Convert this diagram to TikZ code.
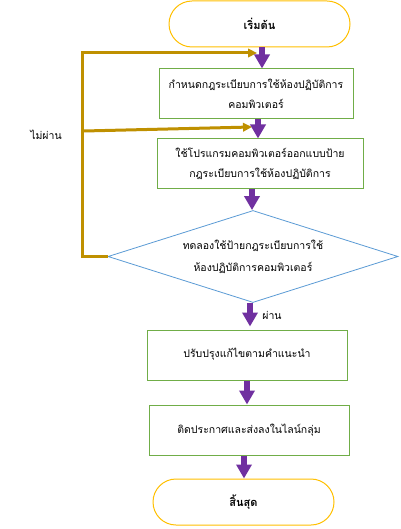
\documentclass[tikz,border=0pt]{standalone}
\usepackage{fontspec}
\newfontfamily\thaifont[Script=Thai]{Loma}
\usetikzlibrary{shapes.geometric,arrows.meta}
\definecolor{termc}{HTML}{FFC000}
\definecolor{boxc}{HTML}{70AD47}
\definecolor{diac}{HTML}{5B9BD5}
\definecolor{loopc}{HTML}{BF9000}
\definecolor{flowc}{HTML}{7030A0}
\tikzset{
  every node/.style={font=\thaifont\fontsize{10.5}{20}\selectfont, inner sep=0pt},
  term/.style={draw=termc, line width=1pt, rounded corners=23pt, minimum width=181pt, minimum height=46pt, align=center, font=\thaifont\bfseries\fontsize{11}{20}\selectfont},
  procbox/.style={draw=boxc, line width=1pt, minimum height=50pt, align=center},
  decide/.style={draw=diac, line width=0.8pt, diamond, minimum width=290pt, minimum height=92pt, aspect=3.15, align=center, font=\thaifont\fontsize{10.5}{22}\selectfont},
  flow/.style={draw=flowc, line width=6pt, -{Triangle[length=14pt,width=15pt]}},
  loopar/.style={draw=loopc, line width=3pt, -{Triangle[length=9pt,width=8.5pt]}},
  lbl/.style={font=\thaifont\fontsize{10.5}{14}\selectfont}
}
\begin{document}
\begin{tikzpicture}[x=1pt,y=-1pt]
\useasboundingbox[fill=white] (0,0) rectangle (400,529);
\node[term] (start) at (259.5,24) {เริ่มต้น};
\node[procbox, minimum width=194pt] (box1) at (256,94) {กำหนดกฎระเบียบการใช้ห้องปฏิบัติการ\\คอมพิวเตอร์};
\node[procbox, minimum width=206pt] (box2) at (260,164) {ใช้โปรแกรมคอมพิวเตอร์ออกแบบป้าย\\กฎระเบียบการใช้ห้องปฏิบัติการ};
\node[decide] (dia) at (253,256.5) {ทดลองใช้ป้ายกฎระเบียบการใช้\\ห้องปฏิบัติการคอมพิวเตอร์};
\node[procbox, minimum width=200pt] (box3) at (247,355) {\raisebox{4pt}{ปรับปรุงแก้ไขตามคำแนะนำ}};
\node[procbox, minimum width=200pt] (box4) at (249,430) {ติดประกาศและส่งลงในไลน์กลุ่ม};
\node[term] (end) at (243.5,502) {สิ้นสุด};
\node[lbl] (pass) at (272,315) {ผ่าน};
\node[lbl] (fail) at (46,135) {ไม่ผ่าน};
\coordinate (in1) at (257,53);
\coordinate (b1) at (84,131);
\coordinate (in2) at (252,127);
\draw[loopar] (dia.west) -- ++(-25,0) |- (in1);
\draw[loopar] (b1) -- (in2);
\draw[flow] ([xshift=2.5pt]start.south) -- ([xshift=6pt]box1.north);
\draw[flow] ([xshift=2pt]box1.south) -- ([xshift=-2pt]box2.north);
\draw[flow] ([xshift=-8pt]box2.south) -- ([xshift=-1pt]dia.north);
\draw[flow] ([xshift=-3pt]dia.south) -- ([xshift=3pt,yshift=3pt]box3.north);
\draw[flow] (box3.south) -- ([xshift=-2pt]box4.north);
\draw[flow] ([xshift=-5pt]box4.south) -- ([xshift=0.5pt]end.north);
\end{tikzpicture}
\end{document}
